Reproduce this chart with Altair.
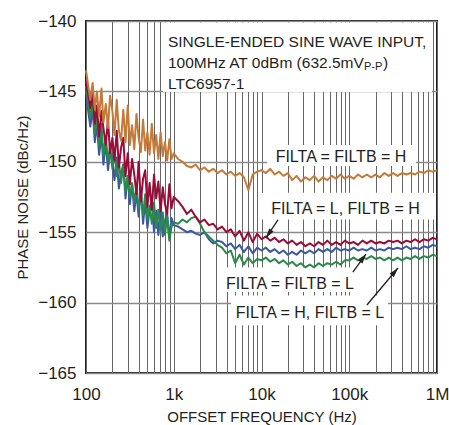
import altair as alt
import pandas as pd

FONT = "Liberation Sans, Arial, sans-serif"
INK = "#231f20"

FREQ = [
    100, 106, 112, 119, 126, 133, 141, 150, 158, 168,
    178, 188, 200, 211, 224, 237, 251, 266, 282, 299,
    316, 335, 355, 376, 398, 422, 447, 473, 501, 531,
    562, 596, 631, 668, 708, 750, 794, 841, 891, 944,
    1000, 1122, 1259, 1413, 1585, 1778, 1995, 2239, 2512, 2818,
    3162, 3548, 3981, 4467, 5012, 5623, 6310, 7079, 7943, 8913,
    10000, 11220, 12589, 14125, 15849, 17783, 19953, 22387, 25119, 28184,
    31623, 35481, 39811, 44668, 50119, 56234, 63096, 70795, 79433, 89125,
    100000, 112202, 125893, 141254, 158489, 177828, 199526, 223872, 251189, 281838,
    316228, 354813, 398107, 446684, 501187, 562341, 630957, 707946, 794328, 891251,
    1000000,
]

# FILTA = FILTB = H (orange)
NOISE_HH = [
    -143.5, -144.6, -145.6, -144.4, -146.3, -145.0, -146.8, -144.8, -147.2, -145.9,
    -147.6, -145.3, -146.4, -148.1, -145.6, -147.8, -148.5, -146.3, -148.6, -146.0,
    -148.8, -147.4, -149.1, -146.6, -148.3, -149.3, -147.0, -149.2, -147.9, -149.5,
    -147.3, -149.4, -148.1, -149.8, -147.9, -149.6, -148.6, -149.9, -148.4, -149.8,
    -149.4, -149.8, -150.0, -150.3, -150.4, -150.2, -150.6, -150.4, -150.7, -150.5,
    -150.8, -150.6, -150.9, -150.7, -151.0, -150.8, -151.1, -152.0, -150.9, -150.7,
    -150.6, -150.8, -150.5, -150.9, -150.7, -151.0, -150.8, -151.3, -151.0, -151.4,
    -151.1, -151.3, -151.0, -151.4, -151.1, -151.3, -151.0, -151.2, -150.9, -151.2,
    -151.0, -151.2, -150.9, -151.1, -150.9, -151.1, -150.9, -151.1, -150.8, -151.0,
    -150.8, -151.0, -150.8, -150.9, -150.8, -150.9, -150.7, -150.8, -150.6, -150.7,
    -150.6,
]

# FILTA = L, FILTB = H (crimson)
NOISE_LH = [
    -144.3, -145.2, -146.2, -145.0, -147.3, -146.0, -148.2, -146.4, -147.6, -148.8,
    -147.0, -149.4, -148.3, -149.9, -147.8, -150.4, -149.0, -148.3, -151.0, -149.4,
    -151.6, -149.8, -150.9, -152.3, -150.0, -152.8, -151.2, -150.6, -153.2, -151.5,
    -153.4, -150.9, -152.6, -151.4, -153.5, -151.8, -153.0, -153.7, -151.6, -153.3,
    -152.5, -152.8, -153.2, -153.7, -153.4, -153.9, -154.3, -154.1, -154.5, -154.4,
    -154.8, -154.6, -155.0, -154.8, -155.3, -154.9, -155.6, -155.0, -155.7, -155.1,
    -155.5, -155.3, -155.6, -155.4, -155.7, -155.5, -155.8, -155.6, -155.9, -155.7,
    -156.0, -155.8, -156.0, -155.7, -155.9, -155.6, -155.9, -155.7, -155.9, -155.6,
    -155.8, -155.7, -155.9, -155.6, -155.8, -155.6, -155.8, -155.7, -155.8, -155.6,
    -155.7, -155.6, -155.8, -155.6, -155.7, -155.5, -155.7, -155.5, -155.6, -155.4,
    -155.5,
]

# FILTA = FILTB = L (blue)
NOISE_LL = [
    -145.0, -146.4, -147.5, -146.2, -148.6, -147.3, -149.5, -148.1, -150.2, -148.6,
    -150.6, -149.3, -149.9, -151.3, -149.7, -151.9, -150.8, -150.2, -152.6, -151.0,
    -153.0, -151.6, -153.5, -152.2, -153.9, -151.9, -154.4, -152.8, -154.7, -153.4,
    -152.8, -155.0, -153.5, -155.2, -153.1, -155.3, -154.2, -153.7, -155.4, -154.0,
    -154.5, -154.6, -154.8, -155.0, -154.9, -155.1, -155.2, -155.0, -155.5, -155.8,
    -155.6, -155.7, -156.0, -155.8, -156.2, -155.9, -156.4, -156.0, -156.5, -156.1,
    -156.3, -156.1, -156.4, -156.2, -156.5, -156.3, -156.6, -156.4, -156.6, -156.3,
    -156.5, -156.3, -156.5, -156.2, -156.4, -156.2, -156.4, -156.1, -156.3, -156.2,
    -156.3, -156.1, -156.3, -156.2, -156.3, -156.1, -156.3, -156.2, -156.3, -156.1,
    -156.2, -156.1, -156.2, -156.0, -156.2, -156.1, -156.2, -156.0, -156.1, -155.9,
    -156.0,
]

# FILTA = H, FILTB = L (green)
NOISE_HL = [
    -144.6, -145.8, -146.9, -145.6, -148.0, -146.8, -148.9, -147.3, -149.6, -148.2,
    -150.0, -148.9, -150.5, -149.3, -151.0, -150.0, -151.5, -150.2, -152.1, -151.0,
    -152.5, -151.5, -152.9, -151.7, -153.3, -152.2, -153.8, -152.3, -154.1, -153.1,
    -154.4, -152.9, -154.7, -153.4, -154.9, -153.6, -155.2, -153.9, -155.6, -154.6,
    -154.3, -154.4, -154.1, -154.3, -154.0, -153.9, -154.4, -155.0, -155.3, -155.6,
    -155.9, -156.1, -156.5, -156.3, -157.2, -156.6, -157.3, -156.8, -157.2, -156.9,
    -157.0, -156.8, -157.1, -156.9, -157.2, -157.0, -157.3, -157.1, -157.4, -157.2,
    -157.5, -157.3, -157.5, -157.2, -157.4, -157.2, -157.3, -157.1, -157.3, -157.0,
    -157.0, -156.8, -157.0, -156.8, -156.9, -156.7, -156.9, -156.8, -157.0, -156.8,
    -157.0, -156.8, -157.0, -156.8, -156.9, -156.7, -156.9, -156.7, -156.8, -156.6,
    -156.7,
]

SERIES_NAMES = ["FILTA = FILTB = L", "FILTA = H, FILTB = L", "FILTA = L, FILTB = H", "FILTA = FILTB = H"]
SERIES_VALUES = [NOISE_LL, NOISE_HL, NOISE_LH, NOISE_HH]
SERIES_COLORS = ["#3b58a6", "#2a8a4a", "#9b0b37", "#c47a38"]

X_TICKS = [m * 10 ** e for e in range(2, 6) for m in range(1, 10)] + [1000000]
Y_TICKS = [-165, -160, -155, -150, -145, -140]

# annotation text
LABELS = ["FILTA = FILTB = H", "FILTA = L, FILTB = H", "FILTA = FILTB = L", "FILTA = H, FILTB = L"]
LABEL_F = [80500, 90600, 21100, 35700]
LABEL_DB = [-150.0, -153.7, -159.0, -161.1]

BOX_F1 = [753, 11600, 10100, 3550, 4490]
BOX_F2 = [877000, 577000, 975000, 126000, 277000]
BOX_DB1 = [-140.1, -148.8, -152.2, -157.5, -159.5]
BOX_DB2 = [-145.05, -150.3, -154.1, -159.25, -161.6]

ARROW_F1 = [15400, 110000, 159000]
ARROW_DB1 = [-154.13, -157.83, -160.17]
ARROW_F2 = [11250, 155000, 359000]
ARROW_DB2 = [-155.41, -156.55, -157.54]
ARROW_ANGLE = [214, 36, 40]

INFO_LINES = ["SINGLE-ENDED SINE WAVE INPUT,", "100MHz AT 0dBm (632.5mV", "LTC6957-1"]
INFO_F = [859, 859, 859]
INFO_DB = [-141.82, -143.34, -144.83]
SUB_TEXT = ["P-P", ")"]
SUB_F = [147000, 243000]
SUB_DB = [-143.5, -143.34]
SUB_SIZE = [11, 15.5]

rows = []
for name, vals in zip(SERIES_NAMES, SERIES_VALUES):
    for f, v in zip(FREQ, vals):
        rows.append({"freq": f, "noise": v, "series": name})
df = pd.DataFrame(rows)

x_scale = alt.Scale(type="log", domain=[100, 1000000], nice=False)
y_scale = alt.Scale(domain=[-165, -140], nice=False, zero=False)

label_expr = ("datum.value == 100 ? '100' : datum.value == 1000 ? '1k' : "
              "datum.value == 10000 ? '10k' : datum.value == 100000 ? '100k' : "
              "datum.value == 1000000 ? '1M' : ''")

x_axis = alt.Axis(
    values=X_TICKS, labelExpr=label_expr, grid=True, gridColor="#666666", gridWidth=1,
    ticks=False, tickSize=0, domain=False, labelPadding=26, labelBaseline="alphabetic",
    labelFlush=False, labelOverlap=False, labelBound=False, labelFontSize=17, labelFont=FONT,
    labelColor=INK, title="OFFSET FREQUENCY (Hz)", titleFont=FONT, titleFontSize=15,
    titleFontWeight="normal", titleColor=INK, titleBaseline="alphabetic", titleX=175.5, titleY=48,
)
y_axis = alt.Axis(
    values=Y_TICKS, grid=True, gridColor="#8a8a8a", gridWidth=1.5, ticks=False, tickSize=0,
    domain=False, labelPadding=10, labelFlush=False, labelOverlap=False, labelBound=False,
    labelFontSize=17, labelFont=FONT, labelColor=INK, title="PHASE NOISE (dBc/Hz)",
    titleFont=FONT, titleFontSize=15, titleFontWeight="normal", titleColor=INK,
    titleBaseline="alphabetic", titleX=-59, titleY=176,
)

boxes = pd.DataFrame({"f1": BOX_F1, "f2": BOX_F2, "d1": BOX_DB1, "d2": BOX_DB2})
box_layer = alt.Chart(boxes).mark_rect(color="white").encode(
    x=alt.X("f1:Q", scale=x_scale, axis=x_axis), x2="f2:Q",
    y=alt.Y("d1:Q", scale=y_scale, axis=y_axis), y2="d2:Q",
)

line_layers = []
for name, color in zip(SERIES_NAMES, SERIES_COLORS):
    line_layers.append(
        alt.Chart(df).transform_filter(alt.datum.series == name)
        .mark_line(color=color, strokeWidth=2, strokeJoin="round")
        .encode(x=alt.X("freq:Q", scale=x_scale), y=alt.Y("noise:Q", scale=y_scale))
    )

labels = pd.DataFrame({"f": LABEL_F, "db": LABEL_DB, "text": LABELS})
label_layer = alt.Chart(labels).mark_text(
    font=FONT, fontSize=16, color=INK, align="center", baseline="alphabetic"
).encode(x=alt.X("f:Q", scale=x_scale), y=alt.Y("db:Q", scale=y_scale), text="text:N")

info = pd.DataFrame({"f": INFO_F, "db": INFO_DB, "text": INFO_LINES})
info_layer = alt.Chart(info).mark_text(
    font=FONT, fontSize=15.5, color=INK, align="left", baseline="alphabetic"
).encode(x=alt.X("f:Q", scale=x_scale), y=alt.Y("db:Q", scale=y_scale), text="text:N")

sub = pd.DataFrame({"f": SUB_F, "db": SUB_DB, "text": SUB_TEXT, "size": SUB_SIZE})
sub_layer = alt.Chart(sub).mark_text(
    font=FONT, color=INK, align="left", baseline="alphabetic"
).encode(x=alt.X("f:Q", scale=x_scale), y=alt.Y("db:Q", scale=y_scale), text="text:N",
         size=alt.Size("size:Q", scale=None, legend=None))

arrows = pd.DataFrame({"f1": ARROW_F1, "d1": ARROW_DB1, "f2": ARROW_F2, "d2": ARROW_DB2,
                       "angle": ARROW_ANGLE})
shaft_layer = alt.Chart(arrows).mark_rule(color=INK, strokeWidth=1.3).encode(
    x=alt.X("f1:Q", scale=x_scale), y=alt.Y("d1:Q", scale=y_scale), x2="f2:Q", y2="d2:Q"
)
head_layer = alt.Chart(arrows).mark_point(
    shape="M0,0L0.34,1.2L-0.34,1.2Z", filled=True, color=INK, opacity=1, size=260
).encode(
    x=alt.X("f2:Q", scale=x_scale), y=alt.Y("d2:Q", scale=y_scale),
    angle=alt.Angle("angle:Q", scale=None),
)

chart = alt.layer(
    box_layer, *line_layers, label_layer, info_layer, sub_layer, shaft_layer, head_layer
).properties(
    width=351, height=352, autosize=alt.AutoSizeParams(type="none"),
    padding={"left": 86, "top": 21, "right": 12, "bottom": 52},
    background="white",
).configure_view(stroke=INK, strokeWidth=2)

chart.save("out.html", embed_options={"renderer": "svg", "actions": False})
